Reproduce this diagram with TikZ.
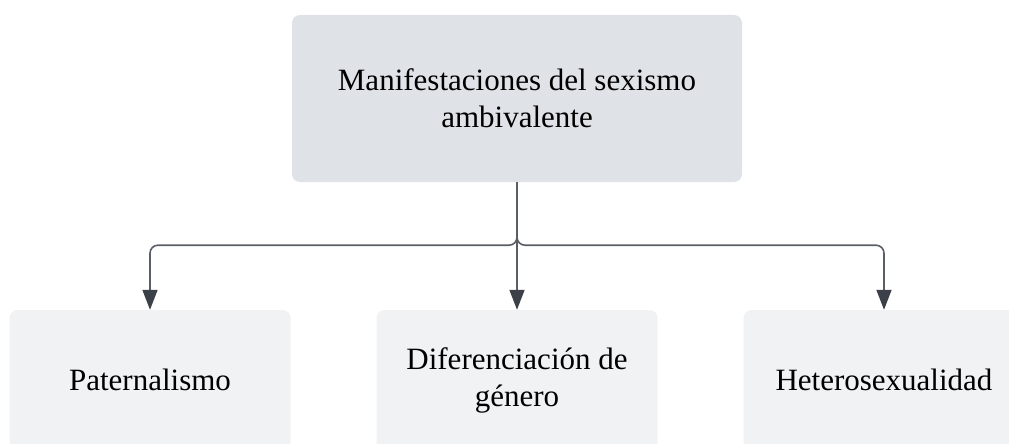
\documentclass[tikz,border=0pt]{standalone}
\usepackage{fontspec}
\setmainfont{Liberation Serif}
\usetikzlibrary{arrows.meta}
\definecolor{topfill}{HTML}{DFE2E6}
\definecolor{boxfill}{HTML}{F1F2F4}
\definecolor{linegray}{HTML}{5A5E65}
\definecolor{tipgray}{HTML}{3C4048}
\tikzset{
  mainbox/.style={fill=topfill, rounded corners=8pt, minimum width=450pt, minimum height=167pt,
    align=center, font=\fontsize{31}{37}\selectfont, inner sep=0pt},
  subbox/.style={fill=boxfill, rounded corners=8pt, minimum width=281pt, minimum height=140pt,
    align=center, font=\fontsize{31}{37}\selectfont, inner sep=0pt},
  conn/.style={draw=linegray, line width=1.6pt, rounded corners=8pt,
    -{Triangle[length=20pt,width=15pt,color=tipgray]}}
}
\begin{document}
\begin{tikzpicture}[x=1pt,y=-1pt]
\useasboundingbox (0,0) rectangle (1009,444);
\node[mainbox] (top) at (517,98.5) {Manifestaciones del sexismo\\ambivalente};
\node[subbox] (pat) at (150,380) {Paternalismo};
\node[subbox] (dif) at (517,380) {Diferenciación de\\género};
\node[subbox] (het) at (884,380) {Heterosexualidad};

\draw[conn] (top.south) -- (dif.north);
\draw[conn] (top.south) -- ++(0,63) -| (pat.north);
\draw[conn] (top.south) -- ++(0,63) -| (het.north);
\end{tikzpicture}
\end{document}
